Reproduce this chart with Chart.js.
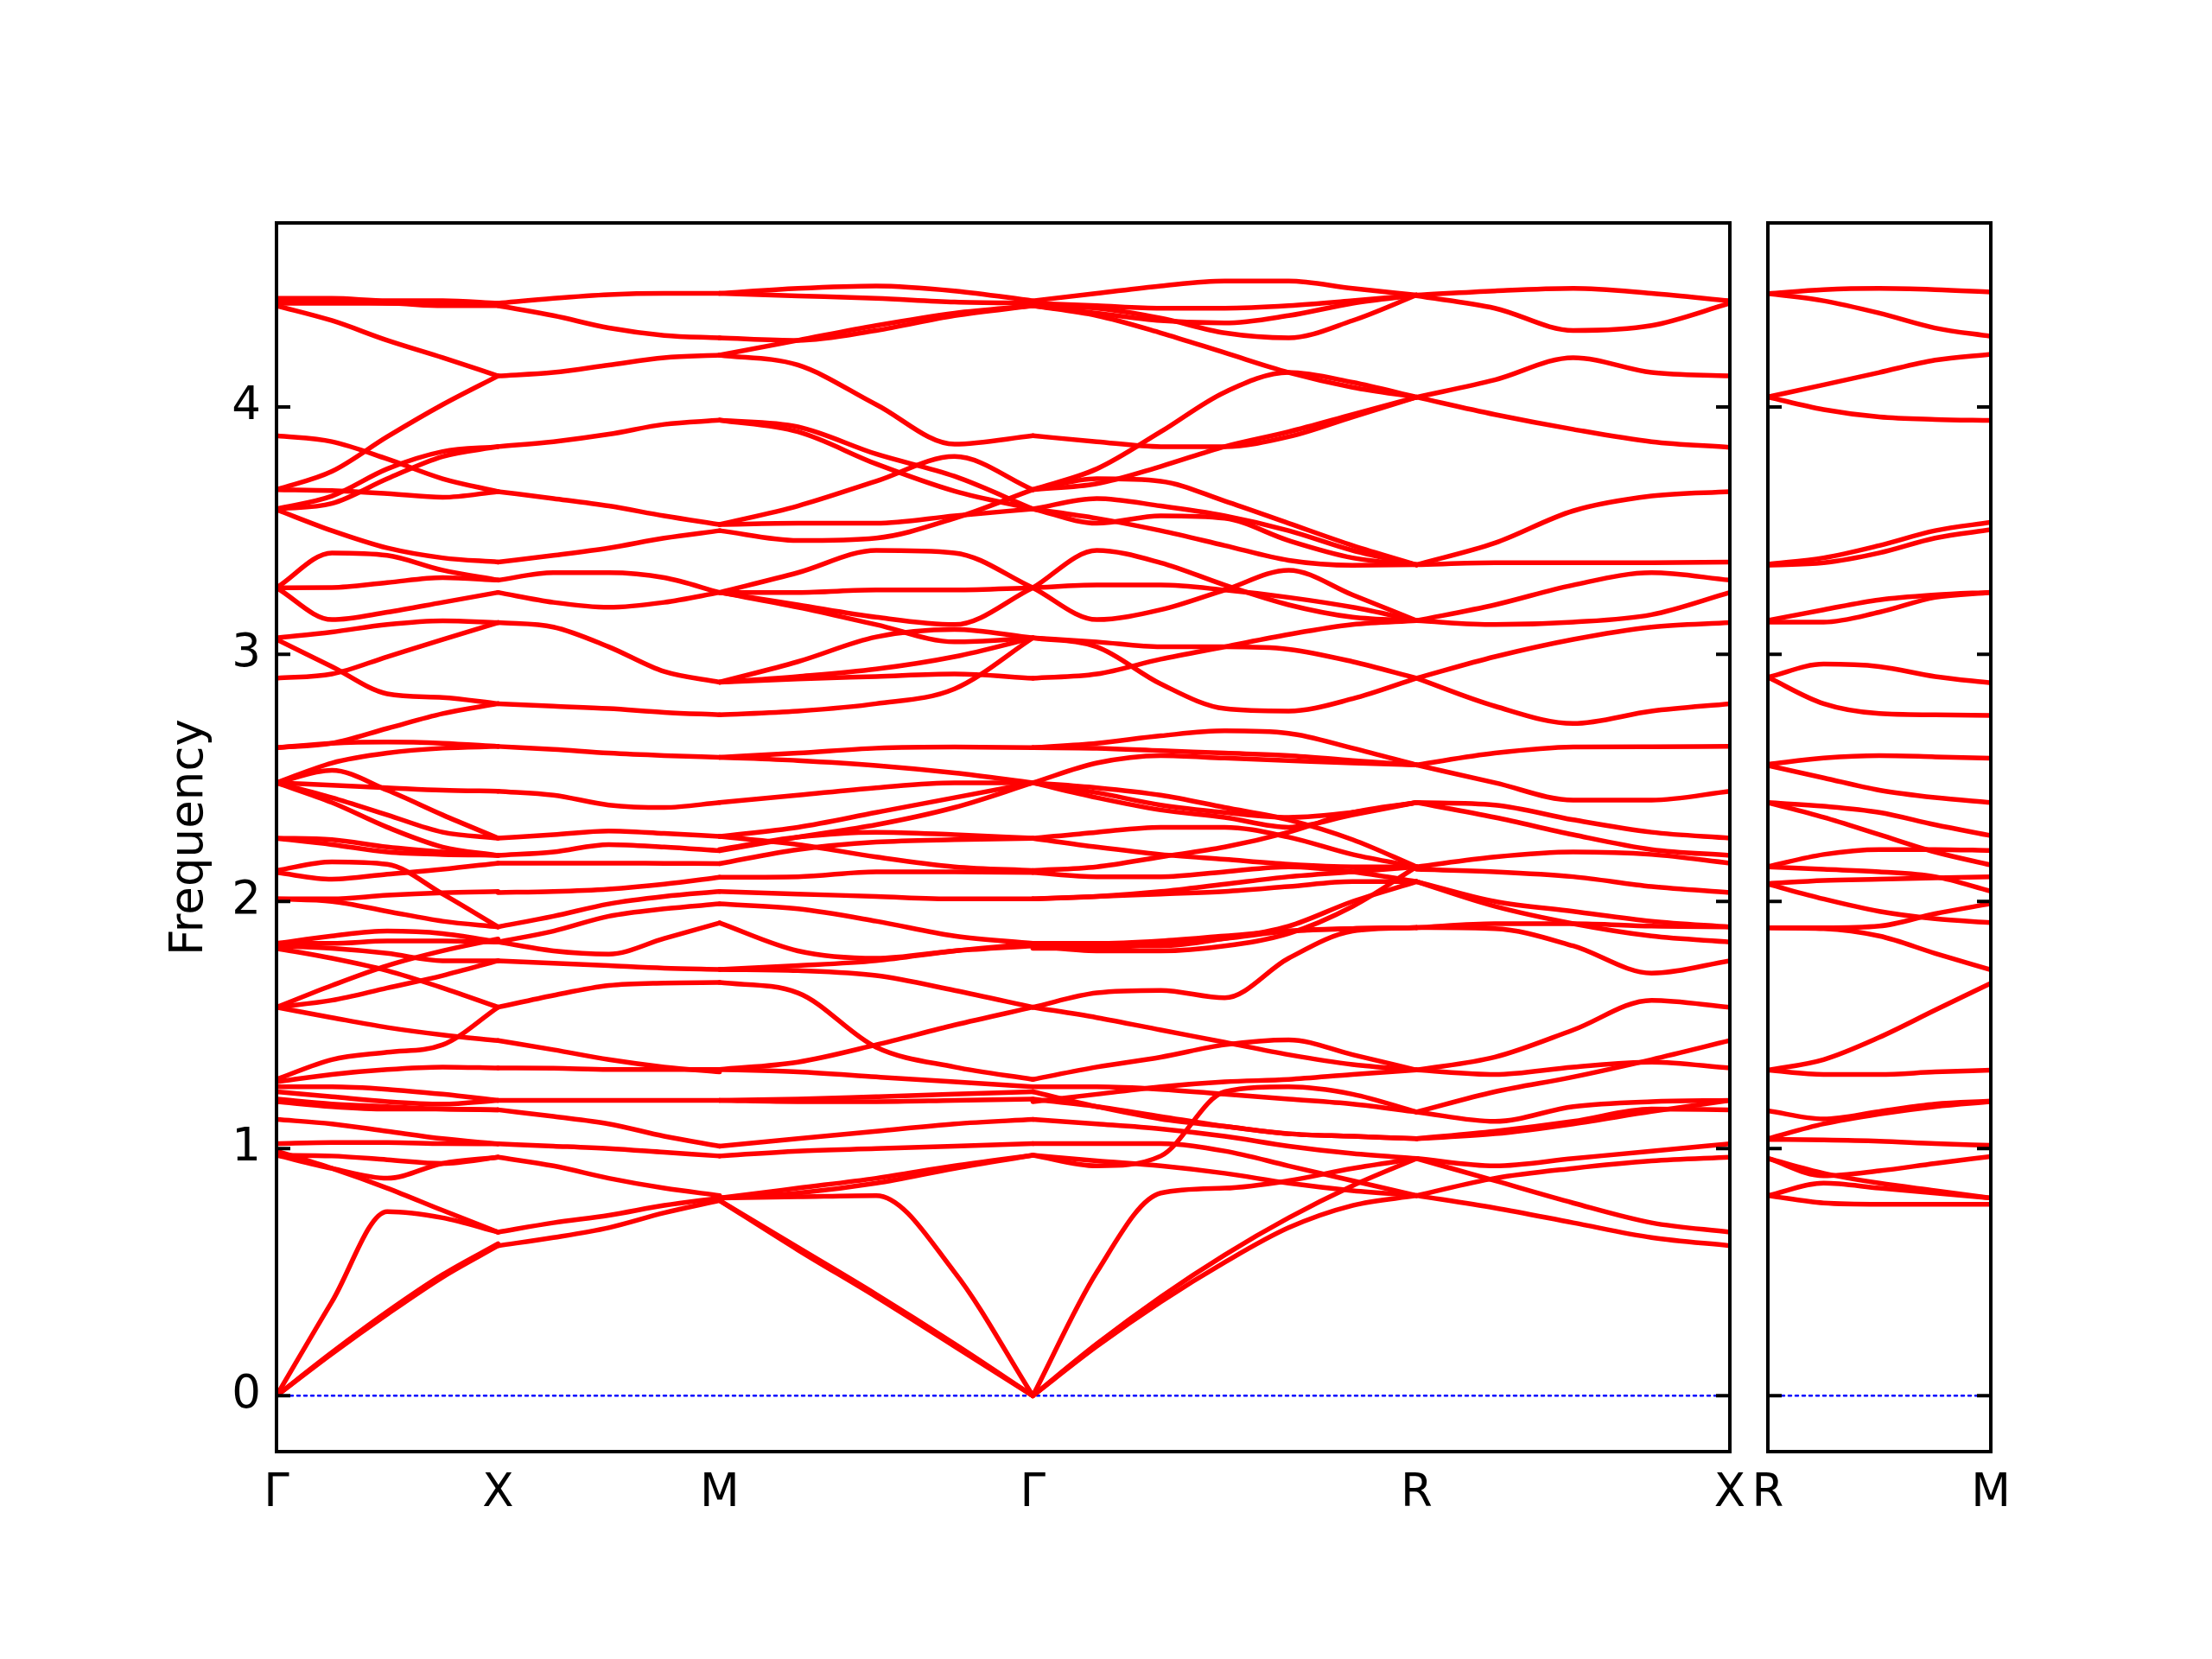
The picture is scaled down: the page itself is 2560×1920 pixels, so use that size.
<!DOCTYPE html>
<html><head><meta charset="utf-8">
<script src="https://cdn.jsdelivr.net/npm/chart.js@4.4.1/dist/chart.umd.min.js"></script>
<style>
html,body{margin:0;padding:0;background:#fff;}
#wrap{position:relative;width:2560px;height:1920px;background:#fff;}
canvas{position:absolute;left:0;top:0;}
</style></head>
<body><div id="wrap"><canvas id="c1" width="2560" height="1920"></canvas><canvas id="c2" width="2560" height="1920"></canvas></div>
<script>
// ---- k-path ----
const pathLabels = ['Γ','X','M','Γ','R','X'];
const segLengths = [1, 1, Math.SQRT2, Math.sqrt(3), Math.SQRT2];
const sideLabels = ['R','M'];
const sideLength = 1;
const yTicks = [0,1,2,3,4];
const yMin = -0.226, yMax = 4.745;

// ---- bands: Γ→X (5 samples) ----
const bandsGX = [
[4.44,4.44,4.43,4.43,4.42],[4.43,4.43,4.42,4.42,4.42],[4.42,4.42,4.42,4.41,4.41],
[4.41,4.35,4.27,4.20,4.126],[3.666,3.74,3.88,4.01,4.126],[3.884,3.86,3.79,3.71,3.658],
[3.666,3.662,3.65,3.635,3.658],[3.588,3.64,3.75,3.82,3.84],[3.588,3.61,3.71,3.80,3.84],
[3.585,3.50,3.43,3.39,3.373],[3.269,3.41,3.40,3.34,3.30],[3.269,3.27,3.29,3.31,3.30],
[3.269,3.14,3.17,3.21,3.25],[3.066,3.09,3.12,3.135,3.128],[3.06,2.95,2.84,2.825,2.80],
[2.903,2.92,2.99,3.06,3.128],[2.622,2.64,2.70,2.76,2.80],[2.622,2.64,2.645,2.64,2.627],
[2.48,2.56,2.60,2.62,2.627],[2.48,2.47,2.46,2.45,2.446],[2.48,2.53,2.45,2.35,2.256],
[2.48,2.42,2.35,2.28,2.256],[2.48,2.40,2.30,2.22,2.186],[2.256,2.25,2.22,2.20,2.186],
[2.255,2.23,2.20,2.19,2.187],[2.125,2.16,2.15,2.03,1.897],[2.117,2.09,2.11,2.13,2.155],
[2.01,2.01,2.025,2.035,2.04],[2.01,2.0,1.96,1.92,1.897],[1.83,1.86,1.88,1.87,1.836],
[1.83,1.83,1.84,1.84,1.836],[1.82,1.81,1.79,1.76,1.76],[1.81,1.77,1.72,1.65,1.572],
[1.572,1.66,1.74,1.80,1.848],[1.572,1.60,1.65,1.70,1.76],[1.572,1.53,1.49,1.46,1.437],
[1.28,1.36,1.39,1.42,1.572],[1.27,1.30,1.32,1.33,1.326],[1.25,1.25,1.24,1.22,1.195],
[1.23,1.21,1.19,1.18,1.195],[1.20,1.18,1.17,1.16,1.157],[1.19,1.17,1.16,1.16,1.157],
[1.118,1.10,1.07,1.04,1.019],[1.02,1.025,1.025,1.02,1.019],[0.973,0.97,0.955,0.94,0.965],
[0.973,0.92,0.88,0.94,0.965],[0.99,0.92,0.84,0.75,0.662],[0,0.38,0.745,0.72,0.662],
[0,0.17,0.33,0.48,0.607],[0,0.175,0.34,0.49,0.615]
];
// ---- X→M ----
const bandsXM = [
[4.42,4.44,4.455,4.46,4.46],[4.41,4.37,4.32,4.29,4.28],[4.126,4.14,4.17,4.20,4.21],
[3.84,3.86,3.89,3.93,3.947],[3.658,3.63,3.60,3.56,3.525],[3.373,3.40,3.43,3.47,3.50],
[3.30,3.33,3.33,3.31,3.25],[3.25,3.21,3.19,3.21,3.25],[3.128,3.11,3.03,2.93,2.887],
[2.80,2.79,2.78,2.765,2.755],[2.627,2.615,2.60,2.59,2.583],[2.446,2.43,2.39,2.38,2.40],
[2.256,2.27,2.285,2.275,2.263],[2.186,2.20,2.23,2.22,2.205],[2.155,2.155,2.155,2.154,2.153],
[2.036,2.04,2.05,2.07,2.098],[1.897,1.94,1.99,2.02,2.04],[1.836,1.88,1.94,1.97,1.99],
[1.836,1.80,1.787,1.85,1.913],[1.76,1.75,1.74,1.73,1.725],[1.572,1.62,1.66,1.67,1.672],
[1.437,1.40,1.36,1.33,1.31],[1.326,1.325,1.32,1.32,1.32],[1.195,1.195,1.195,1.195,1.195],
[1.157,1.13,1.10,1.05,1.01],[1.019,1.01,1.0,0.985,0.97],[0.965,0.93,0.88,0.84,0.81],
[0.662,0.70,0.73,0.77,0.80],[0.607,0.64,0.68,0.74,0.79]
];
// ---- M→Γ ----
const bandsMG = [
[4.46,4.48,4.49,4.47,4.43],[4.46,4.45,4.44,4.425,4.42],[4.28,4.27,4.31,4.37,4.41],
[4.21,4.27,4.33,4.38,4.41],[4.21,4.17,4.01,3.85,3.884],[3.947,3.92,3.81,3.72,3.588],
[3.947,3.90,3.77,3.66,3.588],[3.525,3.60,3.70,3.80,3.666],[3.525,3.53,3.53,3.56,3.588],
[3.50,3.46,3.47,3.55,3.666],[3.25,3.33,3.42,3.41,3.269],[3.25,3.25,3.26,3.26,3.269],
[3.25,3.20,3.15,3.12,3.269],[3.25,3.19,3.12,3.05,3.066],[2.887,2.97,3.07,3.10,3.066],
[2.887,2.91,2.94,2.99,3.066],[2.755,2.77,2.80,2.86,3.066],[2.887,2.90,2.91,2.92,2.903],
[2.583,2.60,2.62,2.625,2.622],[2.583,2.57,2.55,2.52,2.48],[2.40,2.43,2.46,2.48,2.48],
[2.263,2.30,2.36,2.42,2.48],[2.205,2.26,2.31,2.38,2.48],[2.21,2.26,2.28,2.27,2.256],
[2.263,2.23,2.18,2.14,2.125],[2.153,2.21,2.24,2.25,2.255],[2.098,2.10,2.12,2.12,2.117],
[2.04,2.03,2.02,2.01,2.01],[1.99,1.97,1.92,1.86,1.83],[1.913,1.80,1.77,1.80,1.82],
[1.725,1.74,1.76,1.80,1.83],[1.725,1.72,1.70,1.64,1.572],[1.672,1.63,1.41,1.33,1.28],
[1.32,1.35,1.42,1.50,1.572],[1.32,1.31,1.29,1.27,1.25],[1.195,1.20,1.21,1.22,1.23],
[1.195,1.19,1.19,1.195,1.20],[1.01,1.04,1.07,1.10,1.118],[0.97,0.99,1.0,1.01,1.02],
[0.80,0.84,0.88,0.93,0.973],[0.80,0.82,0.86,0.92,0.973],[0.80,0.805,0.81,0.50,0],
[0.79,0.60,0.41,0.21,0],[0.79,0.59,0.40,0.20,0]
];
// ---- Γ→R (7 samples) ----
const bandsGR = [
[4.43,4.46,4.49,4.51,4.51,4.48,4.453],[4.42,4.41,4.40,4.40,4.41,4.43,4.453],
[4.41,4.38,4.35,4.34,4.37,4.42,4.453],[4.41,4.40,4.36,4.30,4.28,4.35,4.453],
[4.41,4.37,4.30,4.22,4.14,4.08,4.04],[3.666,3.75,3.90,4.06,4.14,4.10,4.04],
[3.666,3.69,3.76,3.84,3.90,3.97,4.04],[3.884,3.86,3.84,3.84,3.88,3.96,4.04],
[3.666,3.71,3.70,3.62,3.53,3.44,3.362],[3.588,3.63,3.60,3.56,3.50,3.42,3.362],
[3.588,3.53,3.56,3.55,3.46,3.39,3.362],[3.588,3.55,3.50,3.44,3.38,3.36,3.362],
[3.269,3.42,3.37,3.28,3.20,3.15,3.136],[3.269,3.28,3.28,3.26,3.23,3.19,3.136],
[3.269,3.14,3.18,3.26,3.34,3.24,3.136],[3.066,3.03,2.88,2.78,2.77,2.82,2.903],
[3.066,3.05,3.03,3.03,3.02,2.97,2.903],[2.903,2.92,2.98,3.03,3.08,3.12,3.136],
[2.622,2.64,2.67,2.69,2.68,2.62,2.552],[2.622,2.62,2.61,2.60,2.59,2.57,2.552],
[2.48,2.56,2.59,2.58,2.57,2.56,2.552],[2.48,2.44,2.39,2.36,2.34,2.36,2.40],
[2.48,2.42,2.37,2.34,2.30,2.35,2.40],[2.48,2.46,2.43,2.38,2.33,2.25,2.14],
[2.255,2.28,2.30,2.30,2.26,2.19,2.14],[2.255,2.22,2.19,2.17,2.15,2.14,2.14],
[2.125,2.14,2.18,2.22,2.28,2.36,2.40],[2.117,2.10,2.10,2.12,2.14,2.12,2.08],
[2.01,2.02,2.03,2.04,2.06,2.08,2.08],[2.01,2.02,2.04,2.07,2.10,2.12,2.14],
[1.83,1.83,1.84,1.86,1.88,1.89,1.894],[1.83,1.82,1.82,1.85,1.90,2.00,2.08],
[1.82,1.80,1.80,1.82,1.87,1.98,2.14],[1.81,1.81,1.83,1.85,1.88,1.89,1.894],
[1.572,1.63,1.64,1.61,1.77,1.88,1.894],[1.572,1.53,1.48,1.43,1.38,1.34,1.318],
[1.28,1.33,1.37,1.42,1.44,1.38,1.318],[1.25,1.25,1.24,1.22,1.20,1.18,1.148],
[1.23,1.17,1.12,1.09,1.06,1.05,1.04],[1.20,1.17,1.13,1.09,1.06,1.05,1.04],
[1.19,1.22,1.25,1.27,1.28,1.30,1.318],[1.118,1.10,1.08,1.05,1.01,0.98,0.96],
[1.02,1.02,1.02,0.99,0.93,0.87,0.81],[0.973,0.93,0.97,1.23,1.25,1.22,1.148],
[0.973,0.95,0.93,0.90,0.86,0.83,0.81],[0,0.50,0.82,0.84,0.87,0.92,0.96],
[0,0.20,0.38,0.54,0.68,0.77,0.81],[0,0.21,0.40,0.57,0.72,0.85,0.96]
];
// ---- R→X ----
const bandsRX = [
[4.453,4.47,4.48,4.46,4.43],[4.45,4.40,4.31,4.33,4.42],[4.04,4.11,4.20,4.14,4.126],
[4.04,3.97,3.91,3.86,3.837],[3.362,3.45,3.58,3.64,3.658],[3.362,3.37,3.37,3.37,3.373],
[3.136,3.20,3.28,3.33,3.30],[3.136,3.12,3.13,3.16,3.25],[2.903,2.99,3.06,3.11,3.128],
[2.903,2.79,2.72,2.77,2.80],[2.552,2.60,2.625,2.626,2.627],[2.552,2.48,2.41,2.41,2.446],
[2.40,2.39,2.33,2.28,2.256],[2.40,2.34,2.27,2.21,2.186],[2.14,2.18,2.20,2.19,2.155],
[2.13,2.12,2.10,2.06,2.036],[2.08,2.00,1.96,1.92,1.897],[2.08,1.98,1.91,1.86,1.836],
[1.894,1.89,1.82,1.71,1.76],[1.894,1.91,1.91,1.90,1.897],[1.318,1.37,1.48,1.60,1.572],
[1.318,1.30,1.33,1.35,1.326],[1.148,1.23,1.29,1.36,1.437],[1.148,1.11,1.17,1.19,1.195],
[1.04,1.07,1.11,1.16,1.157],[1.04,1.06,1.10,1.15,1.195],[0.96,0.93,0.96,0.99,1.019],
[0.81,0.88,0.92,0.95,0.965],[0.96,0.87,0.78,0.70,0.662],[0.81,0.76,0.70,0.64,0.607]
];
// ---- R→M (side panel) ----
const bandsRM = [
[4.459,4.475,4.48,4.475,4.465],[4.459,4.43,4.38,4.32,4.286],[4.041,4.09,4.14,4.19,4.214],
[4.041,3.99,3.96,3.95,3.946],[3.364,3.39,3.44,3.50,3.534],[3.36,3.37,3.41,3.47,3.504],
[3.137,3.18,3.22,3.24,3.251],[3.13,3.13,3.17,3.23,3.25],[2.907,2.96,2.95,2.91,2.884],
[2.907,2.80,2.76,2.755,2.752],[2.555,2.58,2.59,2.585,2.579],[2.55,2.50,2.45,2.42,2.40],
[2.40,2.385,2.36,2.31,2.266],[2.40,2.34,2.27,2.20,2.147],[2.141,2.19,2.21,2.21,2.206],
[2.14,2.13,2.12,2.10,2.042],[2.072,2.085,2.09,2.095,2.10],[2.07,2.01,1.96,1.93,1.914],
[1.893,1.893,1.90,1.95,1.991],[1.893,1.89,1.86,1.79,1.723],[1.317,1.36,1.45,1.56,1.669],
[1.317,1.30,1.30,1.31,1.317],[1.153,1.12,1.15,1.18,1.192],[1.04,1.10,1.14,1.17,1.19],
[1.037,1.035,1.03,1.02,1.013],[0.96,0.89,0.91,0.94,0.968],[0.96,0.90,0.86,0.83,0.80],
[0.81,0.86,0.84,0.82,0.80],[0.81,0.78,0.775,0.775,0.775]
];

const mainSegments = [bandsGX, bandsXM, bandsMG, bandsGR, bandsRX];

// ---- build ----
const nodePos = [0];
segLengths.forEach(l => nodePos.push(nodePos[nodePos.length-1] + l));
const total = nodePos[nodePos.length-1];
const FONT = {family: 'DejaVu Sans', size: 53};
const RED = '#ff0000';

function segDatasets(bands, x0, len) {
  return bands.map(b => ({
    data: b.map((f, i) => ({x: x0 + len * i / (b.length - 1), y: f})),
    borderColor: RED, borderWidth: 5.5, pointRadius: 0, fill: false,
    cubicInterpolationMode: 'monotone'
  }));
}
function zeroLine(xmax) {
  return {data: [{x: 0, y: 0}, {x: xmax, y: 0}], borderColor: '#0000ff', borderWidth: 2.5,
          borderDash: [3, 5], pointRadius: 0, fill: false};
}
const framePlugin = {
  id: 'frame',
  afterDraw(chart) {
    const {ctx, chartArea: a} = chart;
    const y = chart.scales.y;
    ctx.save();
    ctx.strokeStyle = '#000';
    ctx.lineWidth = 4;
    ctx.beginPath();
    yTicks.forEach(v => {
      const py = y.getPixelForValue(v);
      ctx.moveTo(a.left, py); ctx.lineTo(a.left + 16, py);
      ctx.moveTo(a.right - 16, py); ctx.lineTo(a.right, py);
    });
    ctx.stroke();
    ctx.strokeRect(a.left, a.top, a.right - a.left, a.bottom - a.top);
    ctx.restore();
  }
};

function makeOptions(pad, xmax, ticksPos, labels, showY) {
  return {
    responsive: false, animation: false, devicePixelRatio: 1,
    layout: {padding: pad},
    plugins: {legend: {display: false}, tooltip: {enabled: false}},
    elements: {line: {borderCapStyle: 'round', borderJoinStyle: 'round'}},
    scales: {
      x: {type: 'linear', min: 0, max: xmax,
          grid: {display: false, drawTicks: false}, border: {display: false},
          afterBuildTicks: s => { s.ticks = ticksPos.map(v => ({value: v})); },
          afterFit: s => { s.height = 240; },
          ticks: {autoSkip: false, maxRotation: 0, minRotation: 0, padding: 17, color: '#000', font: FONT,
                  callback: (v, i) => labels[i]}},
      y: {type: 'linear', min: yMin, max: yMax, display: showY,
          grid: {display: false, drawTicks: false}, border: {display: false},
          afterBuildTicks: s => { s.ticks = yTicks.map(v => ({value: v})); },
          afterFit: s => { if (showY) s.width = 320; },
          ticks: {padding: 18, color: '#000', font: FONT, callback: v => String(v)},
          title: {display: true, text: 'Frequency', color: '#000', font: FONT,
                  padding: {top: 188, bottom: 0}}}
    }
  };
}

const mainData = [];
mainSegments.forEach((bands, s) => mainData.push(...segDatasets(bands, nodePos[s], segLengths[s])));
mainData.push(zeroLine(total));

new Chart(document.getElementById('c1'), {
  type: 'line',
  data: {datasets: mainData},
  options: makeOptions({left: 0, right: 558, top: 258, bottom: 0}, total, nodePos, pathLabels, true),
  plugins: [framePlugin]
});

const sideData = segDatasets(bandsRM, 0, sideLength);
sideData.push(zeroLine(sideLength));
new Chart(document.getElementById('c2'), {
  type: 'line',
  data: {datasets: sideData},
  options: makeOptions({left: 2046, right: 256, top: 258, bottom: 0}, sideLength, [0, sideLength], sideLabels, false),
  plugins: [framePlugin]
});
</script></body></html>
